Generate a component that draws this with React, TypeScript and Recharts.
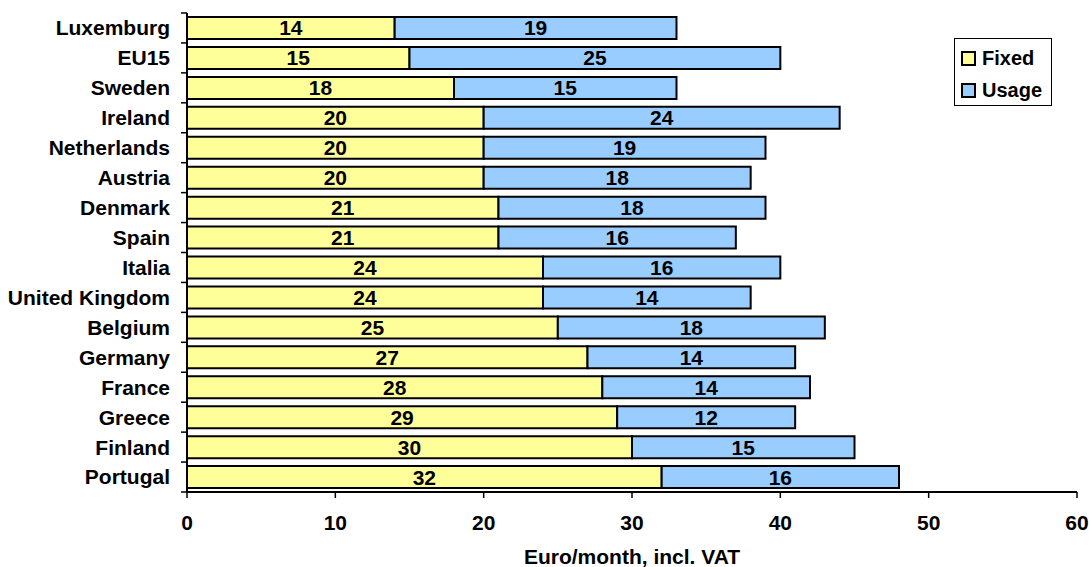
import React from 'react';
import { BarChart, Bar, XAxis, YAxis, LabelList, Legend } from 'recharts';

const countries = ['Luxemburg', 'EU15', 'Sweden', 'Ireland', 'Netherlands', 'Austria', 'Denmark', 'Spain', 'Italia', 'United Kingdom', 'Belgium', 'Germany', 'France', 'Greece', 'Finland', 'Portugal'];
const fixedValues = [14, 15, 18, 20, 20, 20, 21, 21, 24, 24, 25, 27, 28, 29, 30, 32];
const usageValues = [19, 25, 15, 24, 19, 18, 18, 16, 16, 14, 18, 14, 14, 12, 15, 16];
const xTicks = [0, 10, 20, 30, 40, 50, 60];
const seriesNames = ['Fixed', 'Usage'];
const seriesColors = ['#FFFF99', '#99CCFF'];
const axisTitle = 'Euro/month, incl. VAT';

const data = countries.map((name, i) => ({ name, fixed: fixedValues[i], usage: usageValues[i] }));

const W = 1089;
const H = 567;
const MARGIN = { top: 13, right: 12, bottom: 0, left: 0 };
const X_AXIS_H = 75;
const Y_AXIS_W = 187;
const FONT = '"Liberation Sans", Arial, sans-serif';
const FS = 21;
const BAND = (H - MARGIN.top - MARGIN.bottom - X_AXIS_H) / countries.length;

const YTick = (props: any) => {
  const { x, y, payload, index } = props;
  const isLast = index === countries.length - 1;
  return (
    <g>
      <line x1={x - 6} x2={x} y1={y - BAND / 2} y2={y - BAND / 2} stroke="#000" strokeWidth={1.5} />
      {isLast && <line x1={x - 6} x2={x} y1={y + BAND / 2} y2={y + BAND / 2} stroke="#000" strokeWidth={1.5} />}
      <text x={x - 17} y={y} dy="0.355em" textAnchor="end" fontFamily={FONT} fontWeight="bold" fontSize={FS} fill="#000">
        {payload.value}
      </text>
    </g>
  );
};

const LegendBox = () => (
  <div
    style={{
      width: 98,
      height: 68,
      border: '1px solid #000',
      boxSizing: 'border-box',
      background: '#fff',
      paddingTop: 3,
      paddingLeft: 6,
      fontFamily: FONT,
      fontWeight: 'bold',
      fontSize: 20,
      color: '#000',
    }}
  >
    {seriesNames.map((n, i) => (
      <div key={n} style={{ display: 'flex', alignItems: 'center', height: 32 }}>
        <div
          style={{
            width: 15,
            height: 15,
            boxSizing: 'border-box',
            border: '2px solid #000',
            background: seriesColors[i],
            marginRight: 6,
          }}
        />
        <span>{n}</span>
      </div>
    ))}
  </div>
);

export default function App() {
  return (
    <div style={{ position: 'absolute', left: 0, top: 0, background: '#fff' }}>
      <BarChart width={W} height={H} data={data} layout="vertical" margin={MARGIN} barSize={22}>
        <XAxis
          type="number"
          domain={[0, 60]}
          ticks={xTicks}
          interval={0}
          height={X_AXIS_H}
          axisLine={{ stroke: '#000', strokeWidth: 2 }}
          tickLine={{ stroke: '#000', strokeWidth: 1.5 }}
          tickSize={6}
          tickMargin={17}
          tick={{ fill: '#000', fontFamily: FONT, fontWeight: 'bold', fontSize: FS }}
          label={{ value: axisTitle, position: 'insideBottom', offset: 3, fill: '#000', fontFamily: FONT, fontWeight: 'bold', fontSize: FS }}
        />
        <XAxis
          xAxisId="top"
          orientation="top"
          type="number"
          domain={[0, 60]}
          height={0}
          tick={false}
          tickLine={false}
          axisLine={{ stroke: '#888', strokeWidth: 2 }}
        />
        <YAxis
          type="category"
          dataKey="name"
          width={Y_AXIS_W}
          interval={0}
          tickSize={0}
          tickMargin={0}
          tickLine={false}
          axisLine={{ stroke: '#000', strokeWidth: 2 }}
          tick={<YTick />}
        />
        <YAxis
          yAxisId="right"
          orientation="right"
          type="category"
          dataKey="name"
          width={0}
          tick={false}
          tickLine={false}
          axisLine={{ stroke: '#888', strokeWidth: 2 }}
        />
        <Legend
          layout="vertical"
          align="center"
          verticalAlign="middle"
          content={<LegendBox />}
          wrapperStyle={{ position: 'absolute', left: 954, top: 38, width: 98, height: 68 }}
        />
        <Bar dataKey="fixed" name={seriesNames[0]} stackId="a" fill={seriesColors[0]} stroke="#000" strokeWidth={2} isAnimationActive={false}>
          <LabelList dataKey="fixed" position="center" fill="#000" fontFamily={FONT} fontWeight="bold" fontSize={FS} />
        </Bar>
        <Bar dataKey="usage" name={seriesNames[1]} stackId="a" fill={seriesColors[1]} stroke="#000" strokeWidth={2} isAnimationActive={false}>
          <LabelList dataKey="usage" position="center" fill="#000" fontFamily={FONT} fontWeight="bold" fontSize={FS} />
        </Bar>
      </BarChart>
    </div>
  );
}
